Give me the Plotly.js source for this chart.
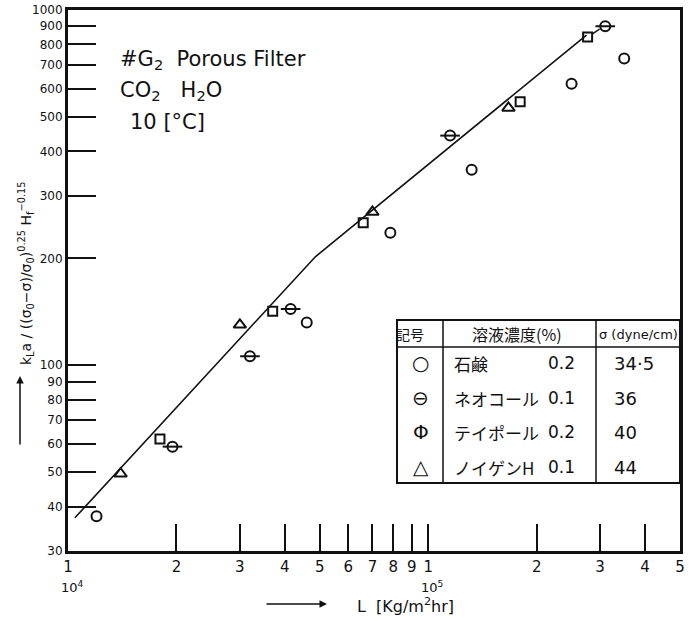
<!DOCTYPE html>
<html><head><meta charset="utf-8">
<script src="https://cdn.plot.ly/plotly-3.0.1.min.js"></script>
<style>body{margin:0;background:#fff}#c{width:690px;height:619px}</style>
</head><body><div id="c"></div>
<script>
// Data (L in kg/m2hr, y = kLa/((σ0-σ)/σ0)^0.25 Hf^-0.15)
const soapL   = [1.2e4, 4.6e4, 7.85e4, 1.32e5, 2.5e5, 3.5e5];
const soapY   = [37.6, 132, 236, 355, 620, 730];
const neoL    = [1.95e4, 3.2e4, 4.15e4, 1.15e5, 3.1e5];
const neoY    = [59, 106, 144, 443, 900];
const teiL    = [1.8e4, 3.7e4, 6.6e4, 1.8e5, 2.77e5];
const teiY    = [62, 142, 252, 552, 840];
const noiL    = [1.4e4, 3.0e4, 7.0e4, 1.67e5];
const noiY    = [49.5, 130, 270, 530];
const fitL    = [1.045e4, 4.86e4, 2.75e5];
const fitY    = [37.2, 202, 850];
const fitDashL = [2.85e5, 3.0e5];
const fitDashY = [855, 885];
const xTickVals = [1e4,2e4,3e4,4e4,5e4,6e4,7e4,8e4,9e4,1e5,2e5,3e5,4e5,5e5];
const xTickText = ["1","2","3","4","5","6","7","8","9","1","2","3","4","5"];
const yTickVals = [30,40,50,60,70,80,90,100,200,300,400,500,600,700,800,900,1000];
const yTickText = ["30","40","50","60","70","80","90","100","200","300","400","500","600","700","800","900","1000"];
const tableHeader = ["記号","溶液濃度(%)","σ (dyne/cm)"];
const tableSymbols = ["○","⊖","Φ","△"];
const tableNames = ["石鹸","ネオコール","テイポール","ノイゲンH"];
const tableConc = ["0.2","0.1","0.2","0.1"];
const tableSigma = ["34·5","36","40","44"];

const black = "#111";
const traces = [
  {x: fitL, y: fitY, mode: "lines", line: {color: black, width: 1.6}, hoverinfo: "skip"},
  {x: fitDashL, y: fitDashY, mode: "lines", line: {color: black, width: 1.4, dash: "dash"}, hoverinfo: "skip"},
  {x: soapL, y: soapY, mode: "markers", marker: {symbol: "circle-open", size: 10, color: black, line: {width: 2}}},
  {x: neoL, y: neoY, mode: "markers", marker: {symbol: "circle-open", size: 10, color: black, line: {width: 2}}},
  {x: neoL, y: neoY, mode: "markers", marker: {symbol: "line-ew-open", size: 14, color: black, line: {width: 2}}},
  {x: teiL, y: teiY, mode: "markers", marker: {symbol: "square-open", size: 9, color: black, line: {width: 2}}},
  {x: noiL, y: noiY, mode: "markers", marker: {symbol: "triangle-up-open", size: 11, color: black, line: {width: 2}}}
];

const L = 68, R = 680, T = 10, B = 551;
const px = v => (v - L) / (R - L);
const py = v => (B - v) / (B - T);

const shapes = [
  {type: "rect", xref: "paper", yref: "paper", x0: px(397), x1: px(680), y0: py(483), y1: py(320),
   line: {color: black, width: 2}, fillcolor: "#fff", layer: "above"},
  {type: "line", xref: "paper", yref: "paper", x0: px(397), x1: px(680), y0: py(347), y1: py(347), line: {color: black, width: 1.5}},
  {type: "line", xref: "paper", yref: "paper", x0: px(443), x1: px(443), y0: py(483), y1: py(320), line: {color: black, width: 1.5}},
  {type: "line", xref: "paper", yref: "paper", x0: px(596), x1: px(596), y0: py(483), y1: py(320), line: {color: black, width: 1.5}}
];

const ann = [];
const hand = "DejaVu Sans";
const jp = "Noto Sans CJK JP";
function t(x, y, text, size, anchor, font) {
  ann.push({xref: "paper", yref: "paper", x: px(x), y: py(y), text: text, showarrow: false,
    xanchor: anchor || "left", yanchor: "middle", font: {family: font || hand, size: size, color: black}});
}
t(118, 60, "#G<sub>2</sub>  Porous Filter", 21);
t(118, 91, "CO<sub>2</sub>   H<sub>2</sub>O", 21);
t(128, 122, "10 [°C]", 21);
// table
t(410, 334, tableHeader[0], 14, "center", jp);
t(517, 334, tableHeader[1], 16, "center", jp);
t(638, 334, tableHeader[2], 13, "center", hand);
const rowY = [363, 398, 432, 467];
for (let i = 0; i < 4; i++) {
  t(421, rowY[i], tableSymbols[i], 20, "center", hand);
  t(452, rowY[i], tableNames[i], 17, "left", jp);
  t(546, rowY[i], tableConc[i], 17, "left", hand);
  t(612, rowY[i], tableSigma[i], 18, "left", hand);
}
// power-of-ten labels under ticks
t(72, 587, "10<sup>4</sup>", 13, "center");
t(432, 587, "10<sup>5</sup>", 13, "center");
// x title
t(355, 605, "L  [Kg/m<sup>2</sup>hr]", 16);
ann.push({xref: "paper", yref: "paper", x: px(327), y: py(604), ax: -62, ay: 0, text: "", showarrow: true,
  arrowhead: 2, arrowsize: 1, arrowwidth: 1.5, arrowcolor: black});
// y title
ann.push({xref: "paper", yref: "paper", x: px(26), y: py(274), text:
  "k<sub>L</sub>a / ((σ<sub>0</sub>−σ)/σ<sub>0</sub>)<sup>0.25</sup> H<sub>f</sub><sup>−0.15</sup>",
  textangle: -90, showarrow: false, xanchor: "center", yanchor: "middle", font: {family: hand, size: 14, color: black}});
ann.push({xref: "paper", yref: "paper", x: px(20), y: py(376), ax: 0, ay: 70, text: "", showarrow: true,
  arrowhead: 2, arrowsize: 1, arrowwidth: 1.5, arrowcolor: black});

const layout = {
  width: 690, height: 619,
  margin: {l: L, r: 690 - R, t: T, b: 619 - B, pad: 0},
  paper_bgcolor: "#fff", plot_bgcolor: "#fff",
  showlegend: false,
  xaxis: {type: "log", range: [4, Math.log10(5e5)], tickvals: xTickVals, ticktext: xTickText,
    ticks: "inside", ticklen: 27, tickwidth: 2, tickcolor: black, showgrid: false, zeroline: false,
    showline: true, linecolor: black, linewidth: 3, mirror: true,
    tickfont: {family: hand, size: 15, color: black}},
  yaxis: {type: "log", range: [Math.log10(30), 3], tickvals: yTickVals, ticktext: yTickText,
    ticks: "inside", ticklen: 28, tickwidth: 2, tickcolor: black, showgrid: false, zeroline: false,
    showline: true, linecolor: black, linewidth: 3, mirror: true,
    tickfont: {family: hand, size: 12, color: black}},
  shapes: shapes,
  annotations: ann
};
Plotly.newPlot("c", traces, layout, {displayModeBar: false, staticPlot: true});
</script></body></html>
